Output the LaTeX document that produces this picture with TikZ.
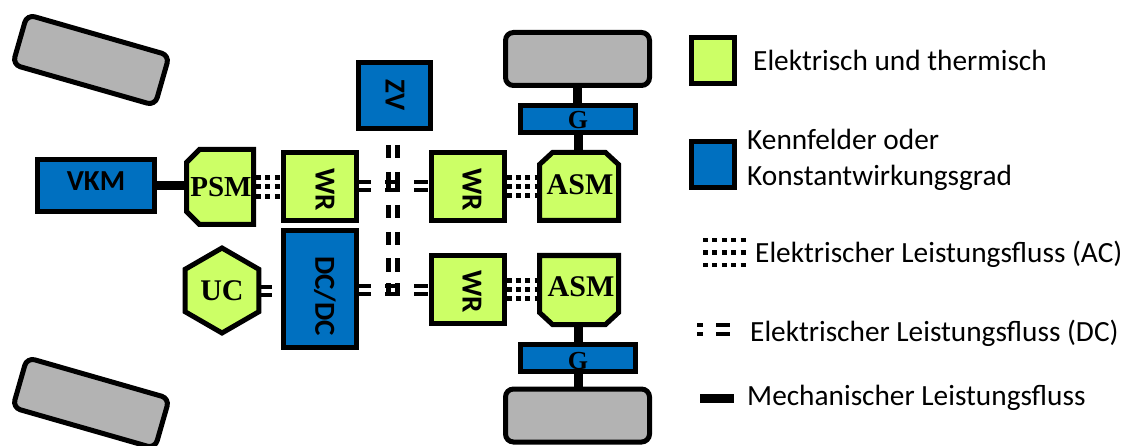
\documentclass[tikz,border=0pt]{standalone}
\usepackage{fontspec}
\setmainfont{Liberation Serif}
\setsansfont{Carlito}
\usetikzlibrary{shapes.geometric}
\definecolor{grn}{HTML}{CCFF66}
\definecolor{blu}{HTML}{0070C0}
\definecolor{gry}{HTML}{B3B3B3}
\tikzset{
 box/.style={draw=black,line width=5pt,rectangle,inner sep=0pt},
 gbox/.style={box,fill=grn},
 bbox/.style={box,fill=blu},
 wheel/.style={box,fill=gry,rounded corners=8pt},
 anch/.style={rectangle,inner sep=0pt,line width=5pt},
 chamf/.style={draw=black,line width=5pt,fill=grn,line join=miter},
 mech/.style={draw=black,line width=9pt},
 dc/.style={draw=black,line width=4pt},
 ac/.style={draw=black,line width=5pt,dash pattern=on 5pt off 4.4pt},
 serlab/.style={font=\rmfamily\bfseries\fontsize{#1}{#1}\selectfont,inner sep=0pt},
 sanlab/.style={font=\sffamily\bfseries\fontsize{#1}{#1}\selectfont,inner sep=0pt},
 leg/.style={font=\sffamily\fontsize{29.3}{30}\selectfont,anchor=base west,inner sep=0pt},
}
\begin{document}
\begin{tikzpicture}[x=1pt,y=-1pt]
\useasboundingbox (0,0) rectangle (1126,446);
% wheels
\node[wheel,minimum width=148pt,minimum height=52pt,rotate=-16] (w1) at (91,60) {};
\node[wheel,minimum width=148pt,minimum height=52pt,rotate=-16] (w2) at (91,403) {};
\node[wheel,minimum width=144pt,minimum height=53pt] (w3) at (577.5,59) {};
\node[wheel,minimum width=144pt,minimum height=53pt] (w4) at (577.5,415.5) {};
% boxes
\node[bbox,minimum width=115pt,minimum height=27pt] (g1) at (578,119) {};
\node[bbox,minimum width=115pt,minimum height=27pt] (g2) at (578,357.5) {};
\node[bbox,minimum width=72pt,minimum height=66pt] (zv) at (394.5,95.5) {};
\node[bbox,minimum width=117pt,minimum height=52pt] (vkm) at (96,185.5) {};
\node[gbox,minimum width=73pt,minimum height=68pt] (wr1) at (320,186.5) {};
\node[gbox,minimum width=73pt,minimum height=68pt] (wr2) at (467.5,186.5) {};
\node[gbox,minimum width=73pt,minimum height=68pt] (wr3) at (467.5,289.5) {};
\node[bbox,minimum width=73pt,minimum height=117pt] (dcdc) at (320,289) {};
% chamfered machines
\node[anch,minimum width=67pt,minimum height=75pt] (psm) at (220,187) {};
\draw[chamf] (199.5,149.5) -- (253.5,149.5) -- (253.5,224.5) -- (199.5,224.5) -- (186.5,211.5) -- (186.5,162.5) -- cycle;
\node[anch,minimum width=79pt,minimum height=68pt] (asm1) at (579,186.5) {};
\draw[chamf] (552.5,152.5) -- (605.5,152.5) -- (618.5,164.5) -- (618.5,220.5) -- (539.5,220.5) -- (539.5,164.5) -- cycle;
\node[anch,minimum width=79pt,minimum height=69pt] (asm2) at (579,290) {};
\draw[chamf] (539.5,255.5) -- (618.5,255.5) -- (618.5,312.5) -- (605.5,324.5) -- (552.5,324.5) -- (539.5,312.5) -- cycle;
\node[regular polygon,regular polygon sides=6,shape border rotate=90,draw=black,line width=5pt,fill=grn,inner sep=0pt,minimum size=85pt] (uc) at (222,290.5) {};
% labels
\node[sanlab=29] (tvkm) at (96,181) {VKM};
\node[serlab=26] (tg1) at (578,120) {G};
\node[serlab=26] (tg2) at (578,361) {G};
\node[serlab=29] (tpsm) at (221,187) {PSM};
\node[serlab=30] (tuc) at (222,291) {UC};
\node[serlab=30] (tasm1) at (580,185) {ASM};
\node[serlab=30] (tasm2) at (581,287) {ASM};
\node[sanlab=29,rotate=-90] (tzv) at (395,95) {ZV};
\node[sanlab=29,rotate=-90] (twr1) at (325,190) {WR};
\node[sanlab=29,rotate=-90] (twr2) at (472,190) {WR};
\node[sanlab=29,rotate=-90] (twr3) at (472,292) {WR};
\node[sanlab=29,rotate=-90] (tdc) at (325,296) {DC/DC};
% mechanical
\draw[mech] (vkm.east) -- (vkm.east -| psm.west);
\draw[mech] (w3.south) -- (g1.north -| w3.south);
\draw[mech] (g1.south) -- (asm1.north -| g1.south);
\draw[mech] (asm2.south -| g2.north) -- (g2.north);
\draw[mech] (g2.south) -- (w4.north -| g2.south);
% AC
\foreach \s in {-9.3,0,9.3}{
 \draw[ac] ([yshift=\s pt]psm.east) -- ([yshift=\s pt]psm.east -| wr1.west);
 \draw[ac] ([yshift=\s pt]wr2.east) -- ([yshift=\s pt]wr2.east -| asm1.west);
 \draw[ac] ([yshift=\s pt]wr3.east) -- ([yshift=\s pt]wr3.east -| asm2.west);
}
% DC
\foreach \s in {-4,4}{
 \draw[dc,dash pattern=on 12pt off 14pt on 15pt off 14pt on 14pt] ([yshift=\s pt]wr1.east) -- ([yshift=\s pt]wr2.west);
 \draw[dc,dash pattern=on 12pt off 14pt on 15pt off 14pt on 14pt] ([yshift=\s pt]dcdc.east|-wr3.west) -- ([yshift=\s pt]wr3.west);
 \draw[dc] ([yshift=\s pt]uc.center -| 258,0) -- ++(14,0);
}
\coordinate (bt) at (393,145);
\coordinate (bb) at (393,296);
\foreach \s in {-4.3,4.3}{
 \draw[dc,line width=4.5pt,dash pattern=on 13pt off 14pt on 18pt off 15pt on 13pt off 14pt on 13pt off 13pt on 14pt off 11pt on 12pt] ([xshift=\s pt]bt) -- ([xshift=\s pt]bb);
}
% legend
\node[gbox,minimum width=43pt,minimum height=46pt] (lg) at (713,60.5) {};
\node[bbox,minimum width=43pt,minimum height=46pt] (lb) at (713,164.5) {};
\node[leg] (l1) at (753,71) {Elektrisch und thermisch};
\node[leg] (l2) at (747,150) {Kennfelder oder};
\node[leg] (l3) at (747,186) {Konstantwirkungsgrad};
\node[leg] (l4) at (755,262) {Elektrischer Leistungsfluss (AC)};
\node[leg] (l5) at (750,341) {Elektrischer Leistungsfluss (DC)};
\node[leg] (l6) at (747,405) {Mechanischer Leistungsfluss};
\coordinate (a1) at (703,240); \coordinate (a2) at (748,240);
\foreach \s in {0,12.5,25}{
 \draw[draw=black,line width=4.5pt,dash pattern=on 5pt off 4.4pt] ([yshift=-\s pt]a1) -- ([yshift=-\s pt]a2);
}
\coordinate (d1) at (697,329.5); \coordinate (d2) at (730,329.5);
\foreach \s in {-4.5,4.5}{
 \draw[dc,dash pattern=on 6pt off 13pt on 14pt] ([yshift=\s pt]d1) -- ([yshift=\s pt]d2);
}
\coordinate (m1) at (700,398); \coordinate (m2) at (734,398);
\draw[mech] (m1) -- (m2);
\end{tikzpicture}
\end{document}
